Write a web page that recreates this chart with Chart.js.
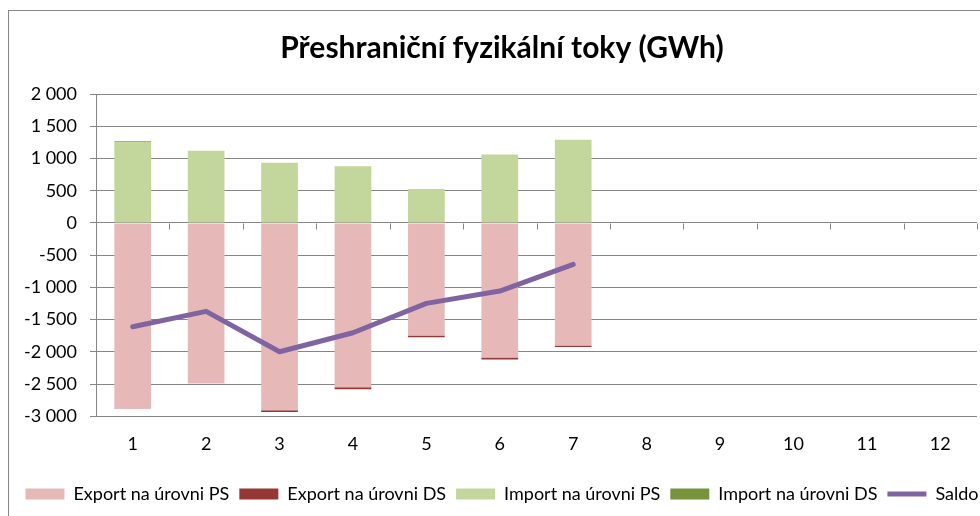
<!DOCTYPE html>
<html>
<head>
<meta charset="utf-8">
<script src="https://cdn.jsdelivr.net/npm/chart.js@4.4.1/dist/chart.umd.min.js"></script>
<style>
  html, body { margin: 0; padding: 0; background: #fff; overflow: hidden; width: 980px; height: 516px; }
  #frame { position: absolute; left: 8px; top: 10px; width: 1010px; height: 520px; border: 1px solid #868686; }
  #wrap { position: absolute; left: 0; top: 0; width: 1008px; height: 505px; }
</style>
</head>
<body>
<div id="frame"><div id="wrap"><canvas id="flowChart"></canvas></div></div>
<script>
// Přeshraniční fyzikální toky (GWh), měsíce 1-12
const months = ["1", "2", "3", "4", "5", "6", "7", "8", "9", "10", "11", "12"];
const exportPS = [-2883, -2489, -2904, -2547, -1744, -2086, -1900, null, null, null, null, null];
const exportDS = [-3, -2, -26, -33, -30, -31, -25, null, null, null, null, null];
const importPS = [1258, 1118, 932, 880, 528, 1061, 1289, null, null, null, null, null];
const importDS = [15, 0, 0, 0, 0, 0, 0, null, null, null, null, null];
const saldo = [-1610, -1371, -1998, -1703, -1247, -1056, -642, null, null, null, null, null];

const gridGrey = "#868686";
const fontName = "Lato";

// small tick marks on the zero line between categories (as in Excel)
const zeroTicks = {
  id: "zeroTicks",
  afterDatasetsDraw(chart) {
    const x = chart.scales.x, y = chart.scales.y, ctx = chart.ctx;
    const y0 = Math.round(y.getPixelForValue(0)) + 0.5;
    const step = (x.right - x.left) / months.length;
    ctx.save();
    ctx.strokeStyle = gridGrey;
    ctx.lineWidth = 1;
    ctx.beginPath();
    for (let i = 1; i <= months.length; i++) {
      const px = Math.round(x.left + i * step) + 0.5;
      ctx.moveTo(px, y0);
      ctx.lineTo(px, y0 + 6);
    }
    ctx.stroke();
    ctx.restore();
  }
};

new Chart(document.getElementById("flowChart"), {
  data: {
    labels: months,
    datasets: [
      { type: "line", label: "Saldo", data: saldo, borderColor: "#8064A2", backgroundColor: "#8064A2",
        borderWidth: 5, pointRadius: 0, borderCapStyle: "round", borderJoinStyle: "round",
        pointStyle: "line", tension: 0, order: 0 },
      { type: "bar", label: "Export na úrovni PS", data: exportPS, backgroundColor: "#E6B9B8", pointStyle: "rect", order: 1 },
      { type: "bar", label: "Export na úrovni DS", data: exportDS, backgroundColor: "#953735", pointStyle: "rect", order: 1 },
      { type: "bar", label: "Import na úrovni PS", data: importPS, backgroundColor: "#C3D69B", pointStyle: "rect", order: 1 },
      { type: "bar", label: "Import na úrovni DS", data: importDS, backgroundColor: "#77933C", pointStyle: "rect", order: 1 }
    ]
  },
  options: {
    responsive: true,
    maintainAspectRatio: false,
    animation: false,
    layout: { padding: { left: 0, right: 22, top: 0, bottom: 3 } },
    datasets: { bar: { barPercentage: 0.5, categoryPercentage: 1.0, stack: "s" } },
    plugins: {
      title: {
        display: true,
        text: "Přeshraniční fyzikální toky (GWh)",
        color: "#000",
        font: { family: fontName, size: 30, weight: "bold" },
        padding: { top: 19, bottom: 28 }
      },
      legend: {
        position: "bottom",
        labels: {
          color: "#000",
          font: { family: fontName, size: 18 },
          usePointStyle: true,
          pointStyleWidth: 39,
          boxHeight: 11,
          padding: 10,
          sort: (a, b) => (a.datasetIndex === 0) - (b.datasetIndex === 0)
        }
      },
      tooltip: { enabled: false }
    },
    scales: {
      x: {
        stacked: true,
        grid: { display: false, drawTicks: false },
        border: { display: false },
        ticks: { color: "#000", font: { family: fontName, size: 18 }, padding: 17 },
        afterFit: (s) => { s.height += 3; }
      },
      y: {
        stacked: true,
        min: -3000,
        max: 2000,
        afterFit: (s) => { s.width = 87; },
        grid: { color: gridGrey, tickLength: 6, drawTicks: true },
        border: { display: true, color: gridGrey },
        ticks: {
          stepSize: 500,
          color: "#000",
          font: { family: fontName, size: 18 },
          padding: 13,
          callback: (v) => String(v).replace(/\B(?=(\d{3})+(?!\d))/g, " ")
        }
      },
      // empty right-hand space: the plot stops before the canvas edge
      yRight: {
        position: "right",
        display: true,
        grid: { display: false, drawTicks: false },
        border: { display: false },
        ticks: { display: false },
        afterFit: (s) => { s.width = 18; }
      }
    }
  },
  plugins: [zeroTicks]
});
</script>
</body>
</html>
